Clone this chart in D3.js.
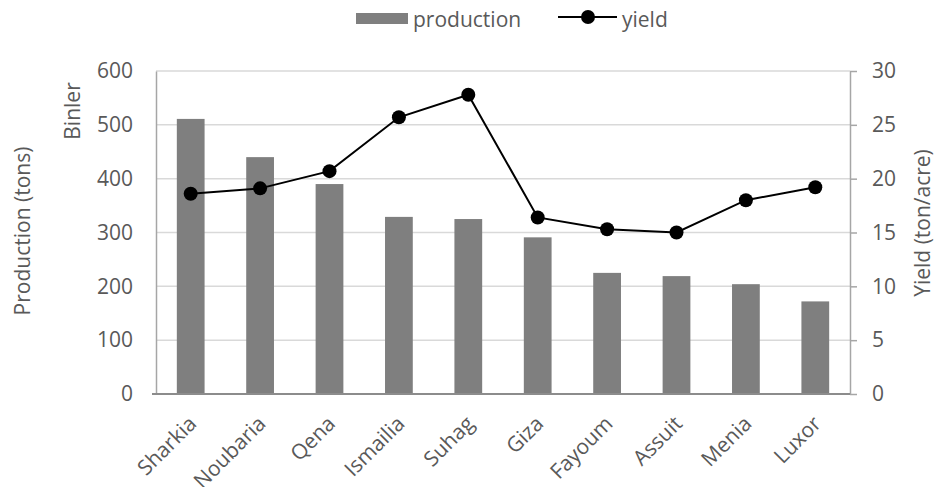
<!DOCTYPE html>
<html>
<head>
<meta charset="utf-8">
<script src="https://cdn.jsdelivr.net/npm/d3@7"></script>
<style>
  body { margin: 0; background: #fff; }
  text { font-family: "Open Sans", sans-serif; fill: #595959; }
</style>
</head>
<body>
<div id="chart"></div>
<script>
// chart data
const regions = ["Sharkia", "Noubaria", "Qena", "Ismailia", "Suhag", "Giza", "Fayoum", "Assuit", "Menia", "Luxor"];
const production = [511, 440, 390, 329, 325, 291, 225, 219, 204, 172];
const yieldVals = [18.6, 19.1, 20.7, 25.7, 27.8, 16.4, 15.3, 15.0, 18.0, 19.2];
const leftTicks = [0, 100, 200, 300, 400, 500, 600];
const rightTicks = [0, 5, 10, 15, 20, 25, 30];

const width = 937, height = 487;
const margin = { top: 71, right: 87, bottom: 93, left: 156 };
const FONT = 21;

const svg = d3.select("#chart").append("svg")
    .attr("width", width)
    .attr("height", height);

const x = d3.scaleBand()
    .domain(regions)
    .range([margin.left, width - margin.right])
    .paddingInner(0.6)
    .paddingOuter(0.3);

const yLeft = d3.scaleLinear()
    .domain([0, 600])
    .range([height - margin.bottom, margin.top]);

const yRight = d3.scaleLinear()
    .domain([0, 30])
    .range([height - margin.bottom, margin.top]);

// gridlines
svg.append("g")
    .selectAll("line")
    .data(leftTicks.slice(1))
    .enter().append("line")
    .attr("x1", margin.left)
    .attr("x2", width - margin.right)
    .attr("y1", d => yLeft(d))
    .attr("y2", d => yLeft(d))
    .attr("stroke", "#d9d9d9")
    .attr("stroke-width", 1.5);

// bars
svg.append("g")
    .selectAll("rect")
    .data(production)
    .enter().append("rect")
    .attr("x", (d, i) => x(regions[i]))
    .attr("y", d => yLeft(d))
    .attr("width", x.bandwidth())
    .attr("height", d => yLeft(0) - yLeft(d))
    .attr("fill", "#7f7f7f");

// left axis
const leftAxis = svg.append("g")
    .attr("transform", "translate(" + margin.left + ",0)")
    .call(d3.axisLeft(yLeft).tickValues(leftTicks).tickSize(0).tickPadding(23));
leftAxis.select(".domain").attr("stroke", "#a6a6a6").attr("stroke-width", 1.5);
leftAxis.selectAll("text").style("font-size", FONT + "px").style("fill", "#595959").style("font-family", "Open Sans");

// right axis
const rightAxis = svg.append("g")
    .attr("transform", "translate(" + (width - margin.right) + ",0)")
    .call(d3.axisRight(yRight).tickValues(rightTicks).tickSize(7).tickSizeOuter(0).tickPadding(15));
rightAxis.select(".domain").attr("stroke", "#a6a6a6").attr("stroke-width", 1.5);
rightAxis.selectAll(".tick line").attr("stroke", "#a6a6a6").attr("stroke-width", 1.5);
rightAxis.selectAll("text").style("font-size", FONT + "px").style("fill", "#595959").style("font-family", "Open Sans");

// x axis line
svg.append("line")
    .attr("x1", margin.left - 4)
    .attr("x2", width - margin.right)
    .attr("y1", yLeft(0))
    .attr("y2", yLeft(0))
    .attr("stroke", "#8c8c8c")
    .attr("stroke-width", 2);

// x labels, rotated like the reference
svg.append("g")
    .selectAll("text")
    .data(regions)
    .enter().append("text")
    .attr("transform", d => "translate(" + (x(d) + x.bandwidth() / 2 + 7) + "," + (yLeft(0) + 31) + ") rotate(-45)")
    .attr("text-anchor", "end")
    .style("font-size", FONT + "px")
    .text(d => d);

// yield line
const line = d3.line()
    .x((d, i) => x(regions[i]) + x.bandwidth() / 2)
    .y(d => yRight(d));

svg.append("path")
    .datum(yieldVals)
    .attr("d", line)
    .attr("fill", "none")
    .attr("stroke", "#000")
    .attr("stroke-width", 2);

svg.append("g")
    .selectAll("circle")
    .data(yieldVals)
    .enter().append("circle")
    .attr("cx", (d, i) => x(regions[i]) + x.bandwidth() / 2)
    .attr("cy", d => yRight(d))
    .attr("r", 7)
    .attr("fill", "#000");

// axis titles
svg.append("text")
    .attr("transform", "translate(30," + (margin.top + 160) + ") rotate(-90)")
    .attr("text-anchor", "middle")
    .style("font-size", FONT + "px")
    .text("Production (tons)");

svg.append("text")
    .attr("transform", "translate(80," + (margin.top + 40) + ") rotate(-90)")
    .attr("text-anchor", "middle")
    .style("font-size", FONT + "px")
    .text("Binler");

svg.append("text")
    .attr("transform", "translate(930," + (margin.top + 152) + ") rotate(-90)")
    .attr("text-anchor", "middle")
    .style("font-size", FONT + "px")
    .text("Yield (ton/acre)");

// legend
const legend = svg.append("g");
legend.append("rect")
    .attr("x", 356).attr("y", 13)
    .attr("width", 52).attr("height", 11)
    .attr("fill", "#7f7f7f");
legend.append("text")
    .attr("x", 413).attr("y", 27)
    .style("font-size", FONT + "px")
    .text("production");
legend.append("line")
    .attr("x1", 558).attr("x2", 617)
    .attr("y1", 17).attr("y2", 17)
    .attr("stroke", "#000").attr("stroke-width", 2);
legend.append("circle")
    .attr("cx", 588).attr("cy", 17).attr("r", 7)
    .attr("fill", "#000");
legend.append("text")
    .attr("x", 622).attr("y", 27)
    .style("font-size", FONT + "px")
    .text("yield");
</script>
</body>
</html>
